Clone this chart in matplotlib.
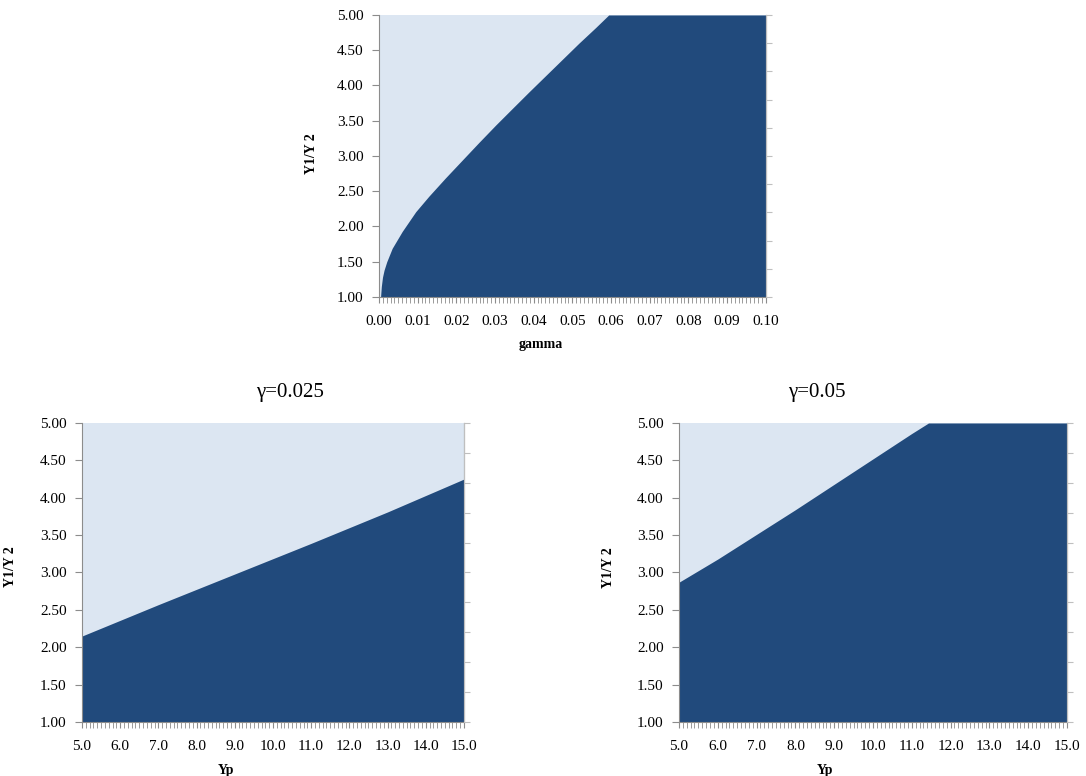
import numpy as np
import matplotlib
matplotlib.use("Agg")
import matplotlib.pyplot as plt
from matplotlib.ticker import MultipleLocator, FixedLocator

plt.rcParams['font.family'] = ['Liberation Serif', 'DejaVu Serif']

# boundary of the dark region
gamma = [0.0, 0.0004, 0.0006, 0.0009, 0.0013, 0.0020, 0.0034, 0.0060, 0.0095,
         0.0129, 0.0172, 0.0215, 0.0258, 0.0302, 0.0344, 0.0388, 0.0431, 0.0474,
         0.0517, 0.0560, 0.0594, 0.100]
ratio_gamma = [1.0, 1.0, 1.15, 1.28, 1.38, 1.50, 1.69, 1.93, 2.21,
               2.43, 2.69, 2.94, 3.19, 3.44, 3.67, 3.91, 4.14, 4.37,
               4.60, 4.82, 5.00, 5.00]

yp = [5.0, 7.0, 9.0, 11.0, 13.0, 15.0]
ratio_025 = [2.15, 2.57, 2.98, 3.39, 3.81, 4.25]

yp_05 = [5.0, 6.0, 7.0, 8.0, 9.0, 10.0, 11.0, 11.43, 15.0]
ratio_05 = [2.87, 3.18, 3.51, 3.84, 4.18, 4.52, 4.86, 5.00, 5.00]

titles = ["γ=0.025", "γ=0.05"]

dark = '#214a7c'
light = '#dce6f2'
spine_c = '#8c8c8c'

fig = plt.figure(figsize=(10.86, 7.76), dpi=100)


def style(ax, x0, x1, minor, major, fmt):
    ax.set_facecolor(light)
    ax.set_xlim(x0, x1)
    ax.set_ylim(1.0, 5.0)
    ax.yaxis.set_major_locator(MultipleLocator(0.5))
    ax.yaxis.set_major_formatter(plt.FormatStrFormatter('%.2f'))
    ax.xaxis.set_major_locator(MultipleLocator(major))
    ax.xaxis.set_minor_locator(MultipleLocator(minor))
    ax.xaxis.set_major_formatter(plt.FormatStrFormatter(fmt))
    ax.tick_params(axis='x', which='both', length=4, color=spine_c, labelsize=11, pad=9)
    ax.tick_params(axis='y', which='major', length=5, color=spine_c, labelsize=11, pad=6)
    ax.spines['top'].set_visible(False)
    for s in ['left', 'bottom', 'right']:
        ax.spines[s].set_color(spine_c)
    # ticks on the right edge
    r = ax.twinx()
    r.set_ylim(1.0, 5.0)
    r.yaxis.set_major_locator(FixedLocator(np.linspace(1, 5, 11)))
    r.tick_params(axis='y', length=4, color='#bfbfbf', labelright=False)
    for s in ['top', 'left', 'bottom']:
        r.spines[s].set_visible(False)
    r.spines['right'].set_color('#bfbfbf')


# top chart
ax1 = fig.add_axes([0.349, 0.6173, 0.356, 0.3634])
ax1.fill_between(gamma, 1.0, ratio_gamma, color=dark, lw=0)
style(ax1, 0.0, 0.10, 0.001, 0.01, '%.2f')
ax1.set_xlabel('gamma', fontsize=10, fontweight='bold')
ax1.xaxis.set_label_coords(0.419, -0.145)
ax1.set_ylabel('Y1/Y 2', fontsize=10, fontweight='bold')
ax1.yaxis.set_label_coords(-0.158, 0.51)

# bottom left
ax2 = fig.add_axes([0.0755, 0.0696, 0.3517, 0.3853])
ax2.fill_between(yp, 1.0, ratio_025, color=dark, lw=0)
style(ax2, 5.0, 15.0, 0.1, 1.0, '%.1f')
ax2.set_xlabel('Yp', fontsize=10, fontweight='bold')
ax2.xaxis.set_label_coords(0.377, -0.14)
ax2.set_ylabel('Y1/Y 2', fontsize=10, fontweight='bold')
ax2.yaxis.set_label_coords(-0.17, 0.518)

# bottom right
ax3 = fig.add_axes([0.6252, 0.0696, 0.3573, 0.3853])
ax3.fill_between(yp_05, 1.0, ratio_05, color=dark, lw=0)
style(ax3, 5.0, 15.0, 0.1, 1.0, '%.1f')
ax3.set_xlabel('Yp', fontsize=10, fontweight='bold')
ax3.xaxis.set_label_coords(0.376, -0.14)
ax3.set_ylabel('Y1/Y 2', fontsize=10, fontweight='bold')
ax3.yaxis.set_label_coords(-0.165, 0.515)

fig.text(290 / 1086, 1 - 392 / 776, titles[0], fontsize=15, ha='center', va='center')
fig.text(817 / 1086, 1 - 392 / 776, titles[1], fontsize=15, ha='center', va='center')

fig.savefig('out.png', dpi=100)
